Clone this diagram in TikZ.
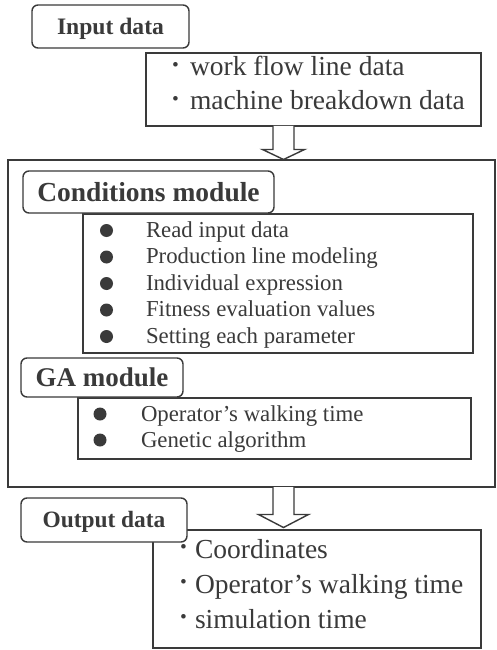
\documentclass[tikz,border=0pt]{standalone}
\usepackage{fontspec}
\setmainfont{Liberation Serif}
\usetikzlibrary{calc}
\definecolor{ink}{HTML}{3A3A3A}
\newcommand\middot{\raisebox{-1.2pt}{\scalebox{1.4}{\textperiodcentered}}}
\begin{document}
\begin{tikzpicture}[x=1pt,y=-1pt,line width=1.4pt,
  box/.style={draw=ink,fill=white,inner sep=0pt,outer sep=0pt,anchor=north west},
  tag/.style={draw=ink,fill=white,rounded corners=6pt,inner sep=0pt,outer sep=0pt,
    anchor=north west,text=ink,text depth=0pt},
  item/.style={anchor=base west,inner sep=0pt,outer sep=0pt,text=ink},
  bigtext/.style={font=\fontsize{27.5}{33}\selectfont},
  smalltext/.style={font=\fontsize{22.8}{26}\selectfont},
  dot/.style={circle,fill=ink,inner sep=0pt,minimum size=13pt},
  blockarrow/.style={draw=ink,fill=white,line width=1.4pt,line join=miter}]

\useasboundingbox (0,0) rectangle (496,650);

% ---------------- input ----------------
\node[box,minimum width=335pt,minimum height=73pt] (inbox) at (146,53) {};
\node[tag,minimum width=157pt,minimum height=43pt,text height=15.6pt,
  font=\bfseries\fontsize{23.6}{28}\selectfont] (intag) at (32,5) {Input data};
\node[item,bigtext] (in1) at (169.5,76)
  {\makebox[20.5pt][l]{\middot}work flow line data};
\node[item,bigtext] (in2) at (169.5,110)
  {\makebox[20.5pt][l]{\middot}machine breakdown data};

% ---------------- processing frame ----------------
\node[box,minimum width=487pt,minimum height=327pt] (main) at (8,160) {};

% conditions module
\node[box,minimum width=390pt,minimum height=139pt] (condbox) at (83,214) {};
\node[tag,minimum width=251pt,minimum height=42pt,text height=18.2pt,
  font=\bfseries\fontsize{27.5}{33}\selectfont] (condtag) at (23,171) {Conditions module};
\foreach \t [count=\i from 0] in {Read input data,Production line modeling,
    Individual expression,Fitness evaluation values,Setting each parameter} {
  \node[dot] (cb\i) at (106.5,{230.5+26.5*\i}) {};
  \node[item,smalltext] (ct\i) at (146,{237+26.5*\i}) {\t};
}

% GA module
\node[box,minimum width=393pt,minimum height=61pt] (gabox) at (78,398) {};
\node[tag,minimum width=162pt,minimum height=39pt,text height=17.8pt,
  font=\bfseries\fontsize{27}{32}\selectfont] (gatag) at (21,358) {GA module};
\node[dot] (gb0) at (100,414) {};
\node[item,smalltext] (gt0) at (141,421) {Operator’s walking time};
\node[dot] (gb1) at (100,440) {};
\node[item,smalltext] (gt1) at (141,447) {Genetic algorithm};

% ---------------- output ----------------
\node[box,minimum width=328pt,minimum height=118pt] (outbox) at (153,530) {};
\node[tag,minimum width=166pt,minimum height=44pt,text height=15.4pt,
  font=\bfseries\fontsize{23.4}{28}\selectfont] (outtag) at (21,498) {Output data};
\node[item,bigtext] (out1) at (177.5,558)
  {\makebox[17.5pt][l]{\middot}Coordinates};
\node[item,bigtext] (out2) at (177.5,593)
  {\makebox[17.5pt][l]{\middot}Operator’s walking time};
\node[item,bigtext] (out3) at (177.5,628)
  {\makebox[17.5pt][l]{\middot}simulation time};

% ---------------- hollow block arrows ----------------
\coordinate (a1s) at (283.5,126);
\coordinate (a1t) at (283.5,159.5);
\draw[blockarrow] ($(a1s)+(-10.5,0)$) -- ($(a1t)+(-10.5,-10)$) -- ($(a1t)+(-21,-10)$)
  -- (a1t) -- ($(a1t)+(21,-10)$) -- ($(a1t)+(10.5,-10)$) -- ($(a1s)+(10.5,0)$);

\coordinate (a2s) at (283.5,487);
\coordinate (a2t) at (283.5,527.5);
\draw[blockarrow] ($(a2s)+(-10.5,0)$) -- ($(a2t)+(-10.5,-13)$) -- ($(a2t)+(-25,-13)$)
  -- (a2t) -- ($(a2t)+(25,-13)$) -- ($(a2t)+(10.5,-13)$) -- ($(a2s)+(10.5,0)$);

\end{tikzpicture}
\end{document}
